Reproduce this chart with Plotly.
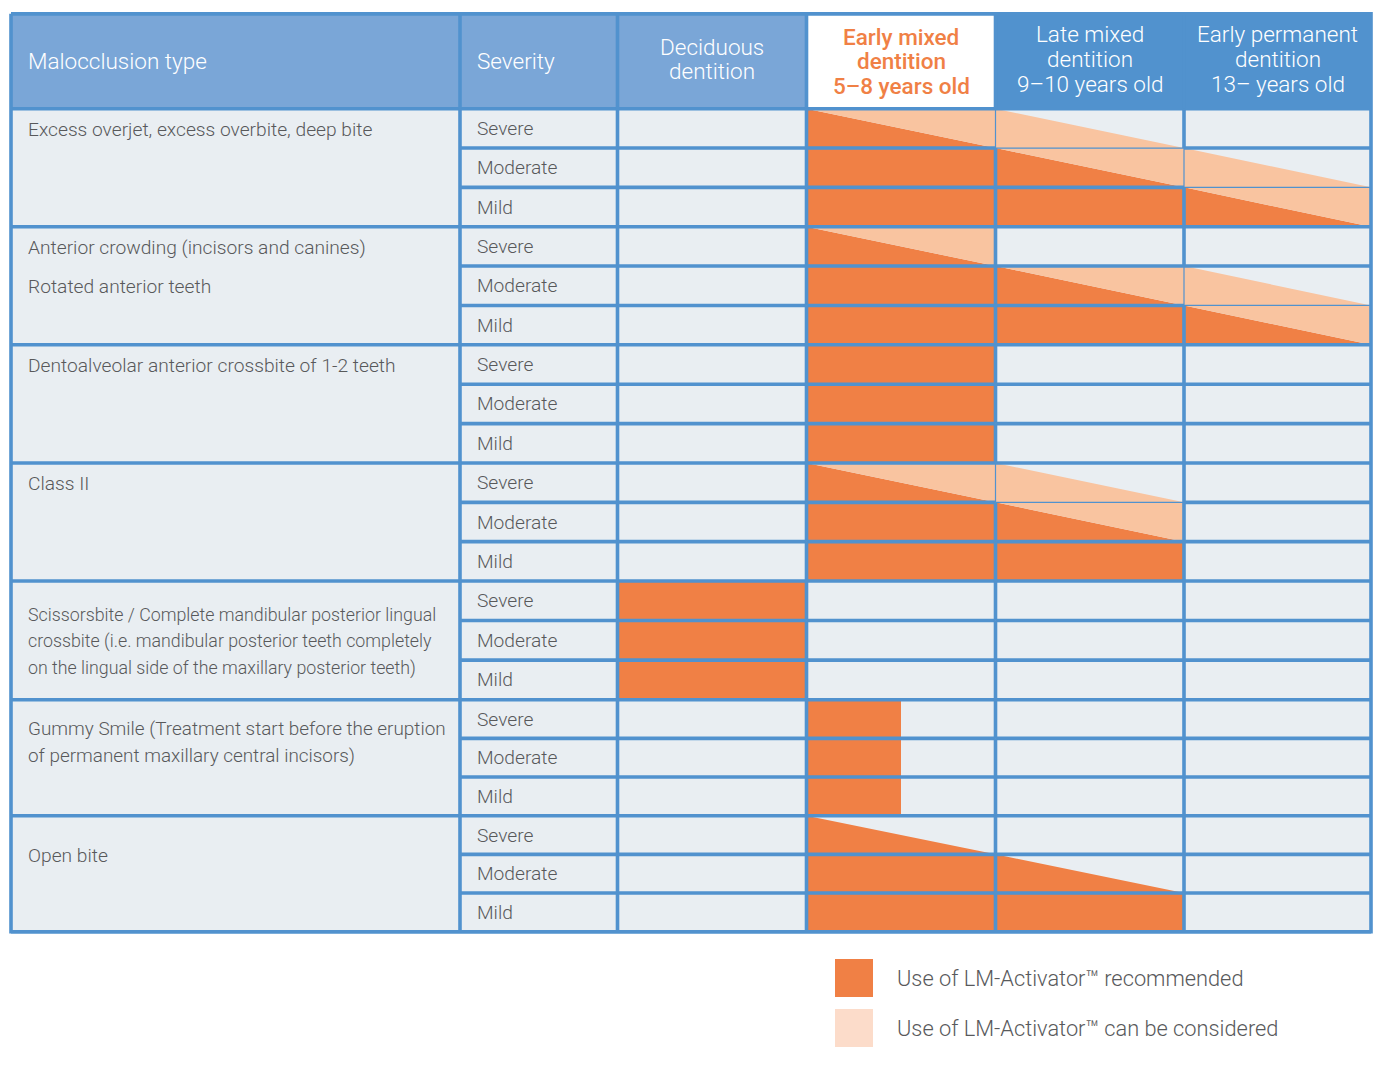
import plotly.graph_objects as go

# ---- data ----
header_labels = ["Malocclusion type", "Severity"]
age_labels = [
    ["Deciduous", "dentition"],
    ["Early mixed", "dentition", "5–8 years old"],
    ["Late mixed", "dentition", "9–10 years old"],
    ["Early permanent", "dentition", "13– years old"],
]
severities = ["Severe", "Moderate", "Mild"]
malocclusion_types = [
    ["Excess overjet, excess overbite, deep bite"],
    ["Anterior crowding (incisors and canines)", "Rotated anterior teeth"],
    ["Dentoalveolar anterior crossbite of 1-2 teeth"],
    ["Class II"],
    ["Scissorsbite / Complete mandibular posterior lingual",
     "crossbite (i.e. mandibular posterior teeth completely",
     "on the lingual side of the maxillary posterior teeth)"],
    ["Gummy Smile (Treatment start before the eruption",
     "of permanent maxillary central incisors)"],
    ["Open bite"],
]
# one code per type / severity / age column
#  R  = recommended, H = recommended for the first half of the period
#  RC = recommended below the diagonal, can be considered above it
#  C/ = can be considered below the diagonal
#  R/ = recommended below the diagonal
usage = [
    [["", "RC", "C/", ""], ["", "R", "RC", "C/"], ["", "R", "R", "RC"]],
    [["", "RC", "", ""], ["", "R", "RC", "C/"], ["", "R", "R", "RC"]],
    [["", "R", "", ""], ["", "R", "", ""], ["", "R", "", ""]],
    [["", "RC", "C/", ""], ["", "R", "RC", ""], ["", "R", "R", ""]],
    [["R", "", "", ""], ["R", "", "", ""], ["R", "", "", ""]],
    [["", "H", "", ""], ["", "H", "", ""], ["", "H", "", ""]],
    [["", "R/", "", ""], ["", "R", "R/", ""], ["", "R", "R", ""]],
]
legend_labels = ["Use of LM-Activator™ recommended",
                 "Use of LM-Activator™ can be considered"]

# ---- layout ----
W, H = 1383, 1082
PAGE = 8  # body margin of the html page
col_edges = [11, 460, 617.5, 806.5, 995.5, 1184, 1371]
head_top, head_bottom = 13.8, 108.7
group_edges = [108.7, 226.7, 344.8, 463, 581, 699.7, 815.7, 931.7]
label_first = [20.5, 20.5, 20.5, 20.5, 33.5, 28.5, 39.5]
label_step = [39.2, 39.2, 39.2, 39.2, 26.5, 27, 27]
label_size = [19.2, 19.2, 19.2, 19.2, 17.8, 18.9, 19.2]
age_line_y = [[47, 71], [37, 61, 86], [34, 59, 84], [34, 59, 84]]

BLUE = "#5192CE"
HEAD_LIGHT = "#7AA6D7"
CELL = "#E9EEF2"
ORANGE = "#F08045"
PEACH = "#F9C4A0"
PEACH_KEY = "#FCDCCA"
TEXT = "#58595B"
FONT = "Roboto"
HEAD_SIZE = 22.5
BODY_SIZE = 19.2
header_fill = [HEAD_LIGHT, HEAD_LIGHT, HEAD_LIGHT, "white", BLUE, BLUE]
DIAG = {"RC", "C/", "R/"}

row_edges = []
for g in range(len(group_edges) - 1):
    top, bot = group_edges[g], group_edges[g + 1]
    for k in range(3):
        row_edges.append(top + (bot - top) * k / 3)
row_edges.append(group_edges[-1])


def add_poly(buf, pts):
    for px, py in pts + [pts[0]]:
        buf[0].append(px)
        buf[1].append(py)
    buf[0].append(None)
    buf[1].append(None)


def add_seg(buf, a, b):
    buf[0].extend([a[0], b[0], None])
    buf[1].extend([a[1], b[1], None])


fig = go.Figure()

# backgrounds
fig.add_trace(go.Scatter(
    x=[col_edges[0], col_edges[-1], col_edges[-1], col_edges[0]],
    y=[group_edges[0], group_edges[0], group_edges[-1], group_edges[-1]],
    fill="toself", fillcolor=CELL, mode="none", hoverinfo="skip"))
for i, colr in enumerate(header_fill):
    x0, x1 = col_edges[i], col_edges[i + 1]
    fig.add_trace(go.Scatter(
        x=[x0, x1, x1, x0], y=[head_top, head_top, head_bottom, head_bottom],
        fill="toself", fillcolor=colr, mode="none", hoverinfo="skip"))

# usage cells
orange = ([], [])
peach = ([], [])
for g, group in enumerate(usage):
    for s, row in enumerate(group):
        r = 3 * g + s
        y0, y1 = row_edges[r], row_edges[r + 1]
        for c, code in enumerate(row):
            x0, x1 = col_edges[c + 2], col_edges[c + 3]
            if code == "R":
                add_poly(orange, [(x0, y0), (x1, y0), (x1, y1), (x0, y1)])
            elif code == "H":
                xm = (x0 + x1) / 2
                add_poly(orange, [(x0, y0), (xm, y0), (xm, y1), (x0, y1)])
            elif code == "RC":
                add_poly(orange, [(x0, y0), (x1, y1), (x0, y1)])
                add_poly(peach, [(x0, y0), (x1, y0), (x1, y1)])
            elif code == "R/":
                add_poly(orange, [(x0, y0), (x1, y1), (x0, y1)])
            elif code == "C/":
                add_poly(peach, [(x0, y0), (x1, y1), (x0, y1)])
for buf, colr in [(orange, ORANGE), (peach, PEACH)]:
    fig.add_trace(go.Scatter(x=buf[0], y=buf[1], fill="toself", fillcolor=colr,
                             mode="none", hoverinfo="skip"))

# grid lines
thick = ([], [])
thin = ([], [])
L, R = col_edges[0], col_edges[-1]
add_seg(thick, (L, head_top), (R, head_top))
add_seg(thick, (L, head_bottom), (R, head_bottom))
for x in col_edges[1:-1]:
    add_seg(thick, (x, head_top), (x, head_bottom))
for y in group_edges[1:]:
    add_seg(thick, (L, y), (R, y))
for x in col_edges[1:3]:
    add_seg(thick, (x, head_bottom), (x, group_edges[-1]))
for g, group in enumerate(usage):
    for s, row in enumerate(group):
        r = 3 * g + s
        y0, y1 = row_edges[r], row_edges[r + 1]
        for c in range(1, len(row)):
            x = col_edges[c + 2]
            buf = thin if (row[c - 1] in DIAG and row[c] in DIAG) else thick
            add_seg(buf, (x, y0), (x, y1))
        if s < len(group) - 1:
            y = y1
            add_seg(thick, (col_edges[1], y), (col_edges[2], y))
            for c, code in enumerate(row):
                below = group[s + 1][c]
                buf = thin if (code in DIAG and below in DIAG) else thick
                add_seg(buf, (col_edges[c + 2], y), (col_edges[c + 3], y))
fig.add_trace(go.Scatter(x=thin[0], y=thin[1], mode="lines",
                         line=dict(color=BLUE, width=1.2), hoverinfo="skip"))
fig.add_trace(go.Scatter(x=thick[0], y=thick[1], mode="lines",
                         line=dict(color=BLUE, width=3.6), hoverinfo="skip"))
fig.add_trace(go.Scatter(
    x=[L, R, R, L, L], y=[head_top, head_top, group_edges[-1], group_edges[-1], head_top],
    mode="lines", line=dict(color=BLUE, width=3.6), hoverinfo="skip"))

# legend keys
key_x0, key_size = 835, 38
key_y = [959, 1009]
for ky, colr in zip(key_y, [ORANGE, PEACH_KEY]):
    fig.add_trace(go.Scatter(
        x=[key_x0, key_x0 + key_size, key_x0 + key_size, key_x0],
        y=[ky, ky, ky + key_size, ky + key_size],
        fill="toself", fillcolor=colr, mode="none", hoverinfo="skip"))

# texts
ann = []


def text(x, y, s, size, color, anchor="left", weight=300):
    ann.append(dict(x=x, y=y, xref="x", yref="y", text=s, showarrow=False,
                    xanchor=anchor, yanchor="middle", borderpad=0, borderwidth=0,
                    font=dict(family=FONT, size=size, color=color, weight=weight)))


text(28, 61, header_labels[0], HEAD_SIZE, "white")
text(477, 61, header_labels[1], HEAD_SIZE, "white")
for i, lines in enumerate(age_labels):
    xc = (col_edges[i + 2] + col_edges[i + 3]) / 2
    colr = ORANGE if i == 1 else "white"
    w = 500 if i == 1 else 300
    for ln, yy in zip(lines, age_line_y[i]):
        text(xc, yy, ln, HEAD_SIZE, colr, anchor="center", weight=w)
for g, lines in enumerate(malocclusion_types):
    for k, ln in enumerate(lines):
        text(28, group_edges[g] + label_first[g] + k * label_step[g], ln, label_size[g], TEXT)
    for s, sev in enumerate(severities):
        r = 3 * g + s
        text(477, (row_edges[r] + row_edges[r + 1]) / 2, sev, BODY_SIZE, TEXT)
for ky, lab in zip(key_y, legend_labels):
    text(897, ky + key_size / 2, lab, 21.8, TEXT)

fig.update_layout(
    width=W, height=H, margin=dict(l=0, r=0, t=0, b=0),
    paper_bgcolor="white", plot_bgcolor="white", showlegend=False,
    xaxis=dict(range=[PAGE, W + PAGE], visible=False, fixedrange=True),
    yaxis=dict(range=[H + PAGE, PAGE], visible=False, fixedrange=True),
    annotations=ann,
)
fig.write_html("out.html")
